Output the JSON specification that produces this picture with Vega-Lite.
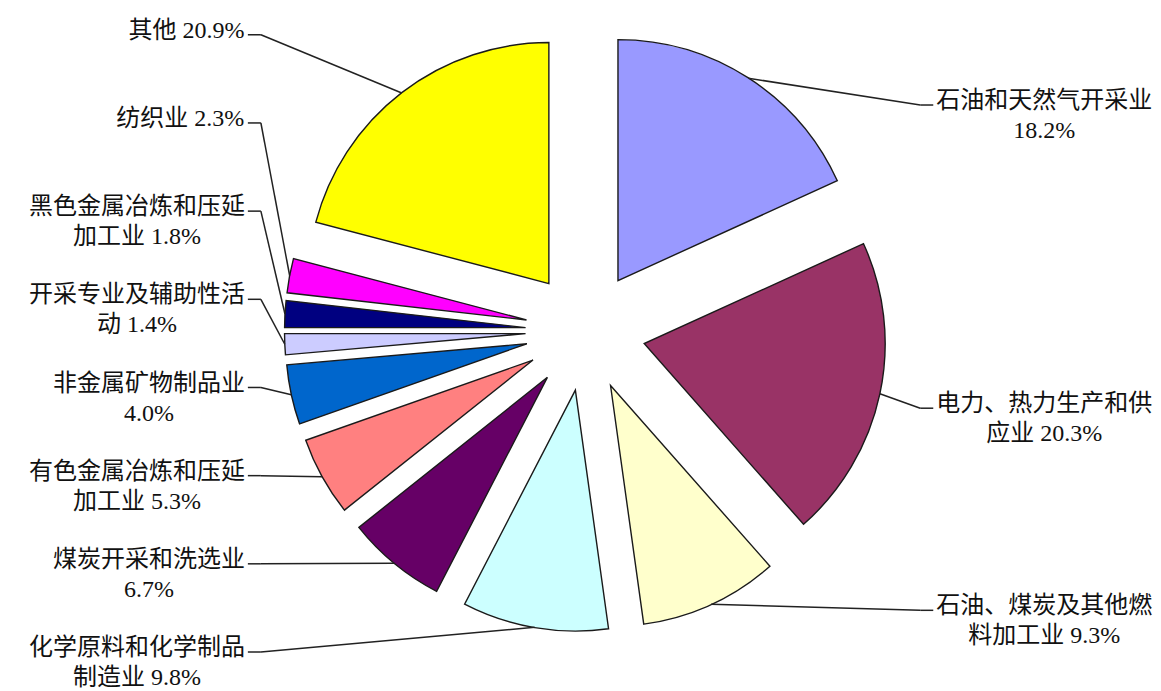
{
  "$schema": "https://vega.github.io/schema/vega-lite/v6.json",
  "width": 1161,
  "height": 691,
  "autosize": {"type": "fit", "contains": "padding"},
  "padding": 0,
  "background": "white",
  "config": {"view": {"stroke": null}},
  "data": {"values": [
    {"order": 1, "category": "石油和天然气开采业", "value": 18.2},
    {"order": 2, "category": "电力、热力生产和供应业", "value": 20.3},
    {"order": 3, "category": "石油、煤炭及其他燃料加工业", "value": 9.3},
    {"order": 4, "category": "化学原料和化学制品制造业", "value": 9.8},
    {"order": 5, "category": "煤炭开采和洗选业", "value": 6.7},
    {"order": 6, "category": "有色金属冶炼和压延加工业", "value": 5.3},
    {"order": 7, "category": "非金属矿物制品业", "value": 4.0},
    {"order": 8, "category": "开采专业及辅助性活动", "value": 1.4},
    {"order": 9, "category": "黑色金属冶炼和压延加工业", "value": 1.8},
    {"order": 10, "category": "纺织业", "value": 2.3},
    {"order": 11, "category": "其他", "value": 20.9}
  ]},
  "transform": [
    {"window": [{"op": "sum", "field": "value", "as": "cum"}], "sort": [{"field": "order", "order": "ascending"}], "frame": [null, 0]},
    {"calculate": "datum.cum - datum.value", "as": "start"},
    {"calculate": "(datum.start + datum.cum) / 100 * PI", "as": "a"},
    {"calculate": "0.249 * sin(datum.a)", "as": "cx"},
    {"calculate": "0.249 * cos(datum.a)", "as": "cy"},
    {"calculate": "1.249 * sin(datum.a)", "as": "px"},
    {"calculate": "1.249 * cos(datum.a)", "as": "py"},
    {"calculate": "sin(datum.a) > 0 ? 'R' : 'L'", "as": "side"},
    {"calculate": "datum.side == 'R' ? datum.cum : 100 - datum.cum", "as": "sk"},
    {"window": [{"op": "row_number", "as": "rank"}], "groupby": ["side"], "sort": [{"field": "sk", "order": "ascending"}]},
    {"calculate": "format(datum.value, '.1f') + '%'", "as": "pct"},
    {"calculate": "length(datum.category)", "as": "n"},
    {"calculate": "datum.n <= 3 ? datum.category + ' ' + datum.pct : (datum.n <= 9 ? datum.category + '\\n' + datum.pct : substring(datum.category, 0, 9) + '\\n' + substring(datum.category, 9) + ' ' + datum.pct)", "as": "label"},
    {"calculate": "datum.n <= 3 ? datum.n * 24 + 11.5 * (length(datum.pct) + 1) : min(datum.n, 9) * 24", "as": "w"},
    {"calculate": "datum.side == 'L' ? 1.251 - 0.3664 * (datum.rank - 1) : 1.2 * cos(datum.a) - 0.05", "as": "ly"},
    {"calculate": "datum.side == 'L' ? -1.413 : 1.455", "as": "edge"},
    {"calculate": "datum.side == 'L' ? datum.edge - datum.w / 482 : datum.edge + datum.w / 482", "as": "tx"},
    {"calculate": "datum.ly - 0.02", "as": "ty"},
    {"calculate": "datum.side == 'L' ? datum.edge + 0.066 : datum.edge - 0.066", "as": "kx"},
    {"calculate": "datum.side == 'L' ? datum.edge + 0.012 : datum.edge - 0.012", "as": "kx2"}
  ],
  "layer": [
    {
      "mark": {"type": "arc", "radius": 241, "stroke": "#1a1a1a", "strokeWidth": 1.4},
      "encoding": {
        "x": {"field": "cx", "type": "quantitative", "scale": {"domain": [-2.4295, 2.388], "nice": false, "zero": false}, "axis": null},
        "y": {"field": "cy", "type": "quantitative", "scale": {"domain": [-1.4917, 1.3755], "nice": false, "zero": false}, "axis": null},
        "theta": {"field": "start", "type": "quantitative", "stack": null, "scale": {"domain": [0, 100], "range": [0, 6.283185307]}},
        "theta2": {"field": "cum"},
        "color": {
          "field": "category",
          "type": "nominal",
          "legend": null,
          "scale": {
            "domain": ["石油和天然气开采业", "电力、热力生产和供应业", "石油、煤炭及其他燃料加工业", "化学原料和化学制品制造业", "煤炭开采和洗选业", "有色金属冶炼和压延加工业", "非金属矿物制品业", "开采专业及辅助性活动", "黑色金属冶炼和压延加工业", "纺织业", "其他"],
            "range": ["#9999FF", "#993366", "#FFFFCC", "#CCFFFF", "#660066", "#FF8080", "#0066CC", "#CCCCFF", "#000080", "#FF00FF", "#FFFF00"]
          }
        }
      }
    },
    {
      "mark": {"type": "rule", "color": "#222222", "strokeWidth": 1.5},
      "encoding": {
        "x": {"field": "px", "type": "quantitative"},
        "y": {"field": "py", "type": "quantitative"},
        "x2": {"field": "kx"},
        "y2": {"field": "ty"}
      }
    },
    {
      "mark": {"type": "rule", "color": "#222222", "strokeWidth": 1.5},
      "encoding": {
        "x": {"field": "kx", "type": "quantitative"},
        "y": {"field": "ty", "type": "quantitative"},
        "x2": {"field": "kx2"},
        "y2": {"field": "ty"}
      }
    },
    {
      "mark": {"type": "text", "align": "center", "baseline": "top", "dy": -11, "fontSize": 24, "lineHeight": 30, "lineBreak": "\n", "font": "Liberation Serif, Noto Sans CJK SC", "color": "#111111"},
      "encoding": {
        "x": {"field": "tx", "type": "quantitative"},
        "y": {"field": "ly", "type": "quantitative"},
        "text": {"field": "label", "type": "nominal"}
      }
    }
  ]
}
